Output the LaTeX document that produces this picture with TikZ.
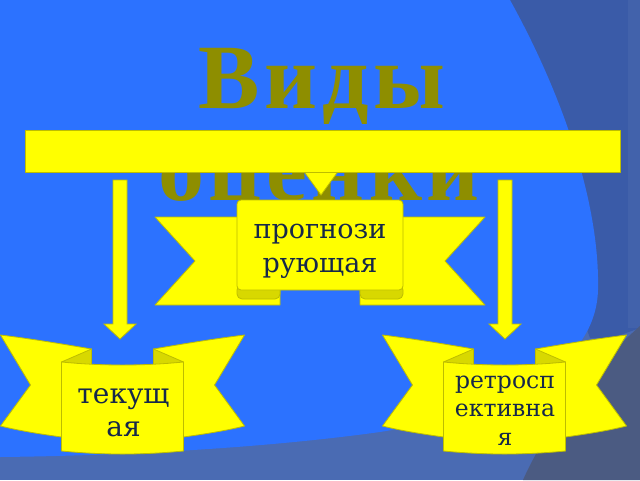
\documentclass[tikz,border=0pt]{standalone}
\usepackage{fontspec}
\newfontfamily\titlefont{Liberation Serif}[LetterSpace=5]
\newfontfamily\panelfont{DejaVu Serif}
\definecolor{bgblue}{HTML}{2C72FF}
\definecolor{slateA}{HTML}{3A5BA8}
\definecolor{slateB}{HTML}{4A6BB3}
\definecolor{slateC}{HTML}{4B5B82}
\definecolor{stripcol}{HTML}{4262AB}
\definecolor{ryellow}{HTML}{FFFF00}
\definecolor{rfold}{HTML}{D8D800}
\definecolor{routline}{HTML}{BDBD00}
\definecolor{titlecol}{HTML}{8E8E00}
\definecolor{ptextcol}{HTML}{16284A}
\newcommand\lowwing{%
  \path[ribbon] (-122,335) .. controls (-90,339) and (-60,344) .. (-31,349) -- (-31,400) -- (-61,437) .. controls (-82,434) and (-102,431) .. (-122,426) -- (-92,385) -- cycle;
  \path[fold] (-61,362) -- (-31,349) -- (-31,365) -- cycle;}
\newcommand\lowpanel{%
  \path[ribbon] (-61,362) .. controls (-20,366) and (20,366) .. (61,362) -- (61,451) .. controls (20,455) and (-20,455) .. (-61,451) -- cycle;}
\newcommand\highwing{%
  \path[ribbon] (-165,217) -- (-40,217) -- (-40,305) -- (-165,305) -- (-125,261) -- cycle;
  \path[fold, rounded corners=5pt] (-83,285) -- (-40,285) -- (-40,299) -- (-83,299) -- cycle;}
\begin{document}
\begin{tikzpicture}[x=1pt,y=-1pt,
  ribbon/.style={fill=ryellow, draw=routline, line width=0.8pt, line join=round},
  fold/.style={fill=rfold, draw=routline, line width=0.8pt, line join=round},
  blockarrow/.style={fill=ryellow, draw=routline, line width=0.8pt, line join=miter},
  ptext/.style={text=ptextcol, anchor=base, inner sep=0pt},
  titletext/.style={text=titlecol, anchor=base, inner sep=0pt, font=\titlefont\bfseries\fontsize{92}{94}\selectfont}]
\useasboundingbox (0,0) rectangle (640,480);
% background
\fill[slateB] (0,0) rectangle (640,480);
\fill[slateA] (470,0) -- (640,0) -- (640,328) -- (612,338) -- (590,338) -- cycle;
\fill[stripcol] (628,0) rectangle (640,328);
\fill[bgblue] (0,0) -- (510,0) .. controls (560,90) and (600,200) .. (598,290) .. controls (596,360) and (520,410) .. (380,432) .. controls (250,450) and (100,456) .. (0,457) -- cycle;
\fill[slateC] (640,326) .. controls (590,370) and (545,430) .. (523,480) -- (640,480) -- cycle;
% title
\node[titletext] (title1) at (322,108) {Виды};
\node[titletext] (title2) at (319,200) {оценки};
% arrows
\path[blockarrow] (300,166) -- (342,166) -- (321,195) -- cycle;
\path[blockarrow] (113,180) -- (127,180) -- (127,324) -- (136,324) -- (120,339) -- (104,324) -- (113,324) -- cycle;
\path[blockarrow] (498,180) -- (512,180) -- (512,324) -- (521,324) -- (505,339) -- (489,324) -- (498,324) -- cycle;
% bar
\path[ribbon] (25,130) rectangle (620,172);
% centre ribbon
\begin{scope}[shift={(320,0)}]
  \highwing
  \begin{scope}[xscale=-1]\highwing\end{scope}
  \path[ribbon, rounded corners=4pt] (-83,200) rectangle (83,290);
\end{scope}
% left ribbon
\begin{scope}[shift={(122.5,0)}]
  \lowwing
  \begin{scope}[xscale=-1]\lowwing\end{scope}
  \lowpanel
\end{scope}
% right ribbon
\begin{scope}[shift={(504.5,0)}]
  \lowwing
  \begin{scope}[xscale=-1]\lowwing\end{scope}
  \lowpanel
\end{scope}
% texts
\node[ptext, font=\panelfont\fontsize{27}{30}\selectfont] (c1) at (320,238) {прогнози};
\node[ptext, font=\panelfont\fontsize{27}{30}\selectfont] (c2) at (320,272) {рующая};
\node[ptext, font=\panelfont\fontsize{28}{30}\selectfont] (l1) at (123.5,403) {текущ};
\node[ptext, font=\panelfont\fontsize{28}{30}\selectfont] (l2) at (123.5,436) {ая};
\node[ptext, font=\panelfont\fontsize{23.5}{28}\selectfont] (r1) at (505,388) {ретросп};
\node[ptext, font=\panelfont\fontsize{23.5}{28}\selectfont] (r2) at (505,416) {ективна};
\node[ptext, font=\panelfont\fontsize{23.5}{28}\selectfont] (r3) at (505,445) {я};
\end{tikzpicture}
\end{document}
